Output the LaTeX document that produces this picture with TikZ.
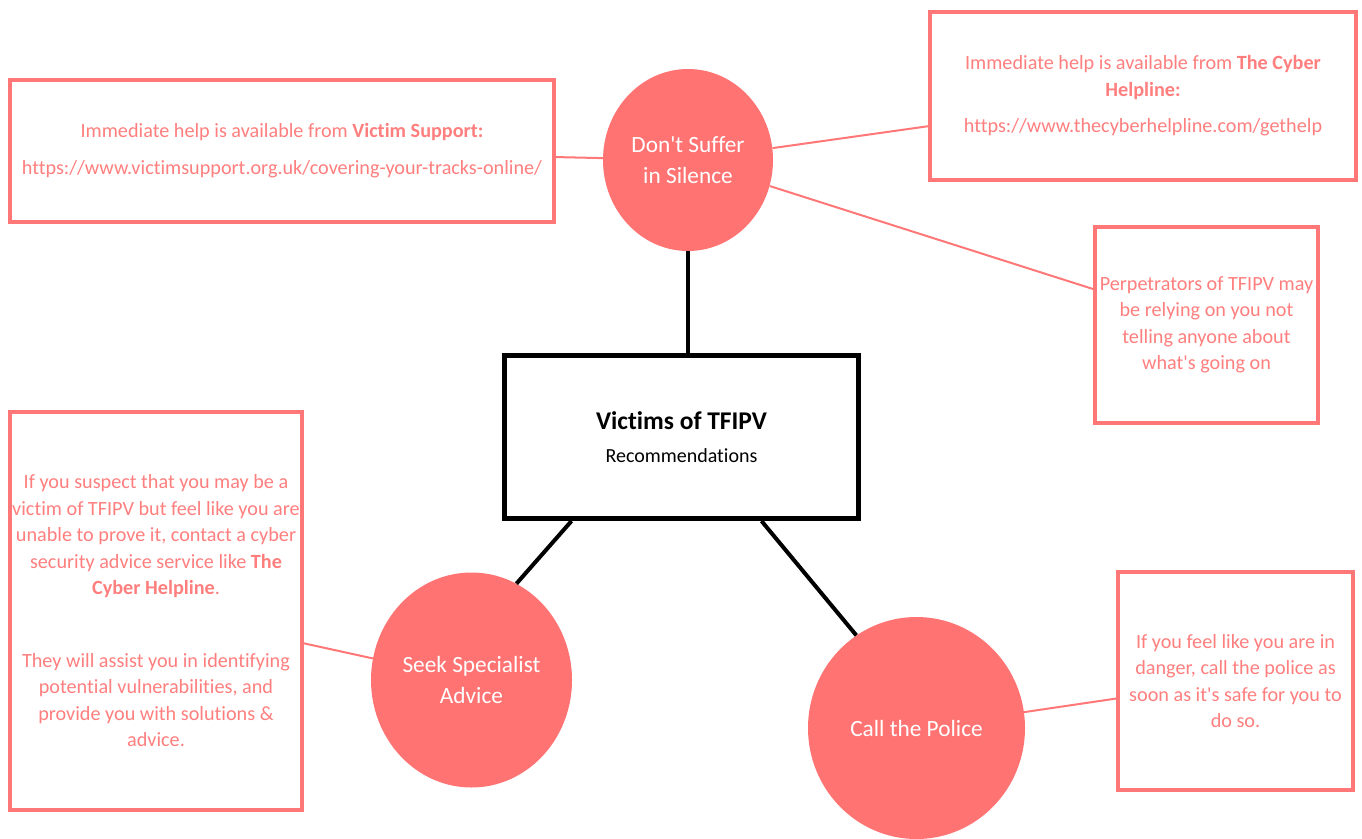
\documentclass[tikz,border=0pt]{standalone}
\usepackage{fontspec}
\setmainfont{Carlito}[Ligatures=NoCommon]
\usetikzlibrary{shapes.geometric}
\definecolor{salmon}{HTML}{FF7373}
\definecolor{salmonline}{HTML}{FF7777}
\definecolor{salmontext}{HTML}{FF7E7E}
\newcommand{\apos}{\textquotesingle}
\tikzset{
  infobox/.style={draw=salmonline, line width=4pt, rectangle, inner sep=0pt,
    align=center, text=salmontext, font=\fontsize{20.2}{26.5}\selectfont},
  topic/.style={ellipse, fill=salmon, draw=none, inner sep=0pt, align=center,
    text=white, font=\fontsize{23.3}{31}\selectfont},
  hub/.style={draw=black, line width=5pt, rectangle, inner sep=0pt, align=center,
    font=\fontsize{20}{33}\selectfont},
  thin link/.style={draw=salmonline, line width=2pt},
  thick link/.style={draw=black, line width=4pt}
}
\begin{document}
\begin{tikzpicture}[x=1pt, y=-1pt]
  \useasboundingbox (0,0) rectangle (1362,838);
  \clip (0,0) rectangle (1362,838);

  % central hub
  \node[hub, minimum width=354pt, minimum height=163pt] (main) at (681.5,437)
    {{\fontsize{25.5}{30}\selectfont\bfseries Victims of TFIPV}\\
     Recommendations};

  % topic circles
  \node[topic, minimum width=170pt, minimum height=182pt] (c1) at (688,160)
    {Don\apos t Suffer\\ in Silence};
  \node[topic, minimum width=201pt, minimum height=215pt] (c2) at (471.5,680)
    {Seek Specialist\\ Advice};
  \node[topic, minimum width=217pt, minimum height=222pt] (c3) at (916.5,728)
    {Call the Police};

  % information boxes
  \node[infobox, minimum width=544pt, minimum height=142pt] (b1) at (282,151)
    {Immediate help is available from \textbf{Victim Support:}\\[10.5pt]
     https://www.victimsupport.org.uk/covering-your-tracks-online/};
  \node[infobox, minimum width=426pt, minimum height=168pt] (b2) at (1143,96)
    {Immediate help is available from \textbf{The Cyber}\\
     \textbf{Helpline:}\\[10pt]
     https://www.thecyberhelpline.com/gethelp};
  \node[infobox, minimum width=223pt, minimum height=196pt] (b3) at (1206.5,325)
    {Perpetrators of TFIPV may\\ be relying on you not\\
     telling anyone about\\ what\apos s going on};
  \node[infobox, minimum width=292pt, minimum height=398pt] (b4) at (156,611)
    {If you suspect that you may be a\\
     victim of TFIPV but feel like you are\\
     unable to prove it, contact a cyber\\
     security advice service like \textbf{The}\\
     \textbf{Cyber Helpline}.\\[46pt]
     They will assist you in identifying\\
     potential vulnerabilities, and\\
     provide you with solutions \&\\
     advice.};
  \node[infobox, minimum width=235pt, minimum height=218pt] (b5) at (1235.5,681)
    {If you feel like you are in\\ danger, call the police as\\
     soon as it\apos s safe for you to\\ do so.};

  % hub connectors
  \draw[thick link] (c1.south) -- (c1.south |- main.north);
  \draw[thick link] ([xshift=-110pt]main.south) -- (c2.65);
  \draw[thick link] ([xshift=80pt]main.south) -- (c3.123);

  % box connectors
  \draw[thin link] (b1) -- (c1);
  \draw[thin link] (c1) -- (b2);
  \draw[thin link] (c1) -- (b3);
  \draw[thin link] (b4) -- (c2);
  \draw[thin link] (c3) -- (b5);
\end{tikzpicture}
\end{document}
